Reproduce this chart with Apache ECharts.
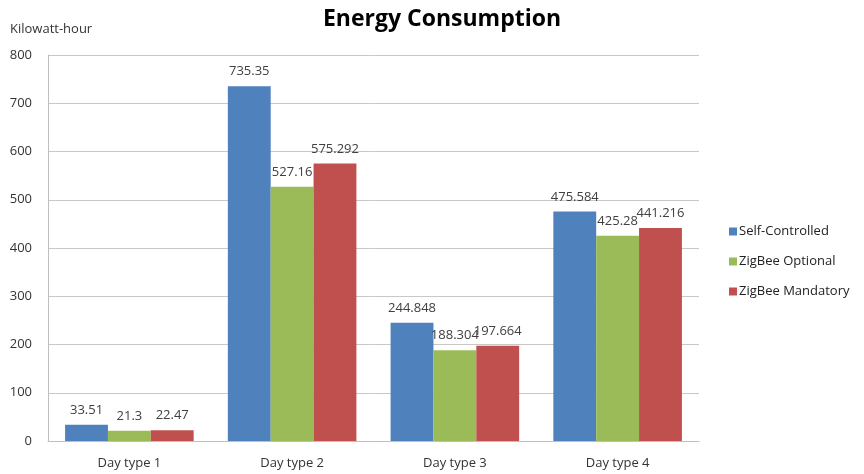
<!DOCTYPE html>
<html>
<head>
<meta charset="utf-8">
<script src="https://cdn.jsdelivr.net/npm/echarts@6/dist/echarts.min.js"></script>
<style>
  html, body { margin: 0; padding: 0; background: #fff; }
  #chart { width: 864px; height: 474px; }
</style>
</head>
<body>
<div id="chart"></div>
<script>
const categories = ['Day type 1', 'Day type 2', 'Day type 3', 'Day type 4'];
const selfControlled = [33.51, 735.35, 244.848, 475.584];
const zigbeeOptional = [21.3, 527.16, 188.304, 425.28];
const zigbeeMandatory = [22.47, 575.292, 197.664, 441.216];
const yTicks = { min: 0, max: 800, interval: 100 };

const font = "'Open Sans', 'Liberation Sans', sans-serif";

const chart = echarts.init(document.getElementById('chart'));

function barSeries(name, data, color) {
  return {
    name: name,
    type: 'bar',
    data: data,
    barGap: '0%',
    barCategoryGap: '21%',
    itemStyle: { color: color },
    label: {
      show: true,
      position: 'top',
      distance: 8,
      color: '#404040',
      fontFamily: font,
      fontSize: 13,
    },
  };
}

const option = {
  animation: false,
  title: {
    text: 'Energy Consumption',
    left: 437,
    textAlign: 'center',
    top: 3,
    textStyle: {
      fontFamily: font,
      fontWeight: 'bold',
      fontSize: 23,
      color: '#000',
    },
  },
  legend: {
    orient: 'vertical',
    left: 724,
    top: 220,
    itemWidth: 8,
    itemHeight: 8,
    itemGap: 17,
    icon: 'rect',
    textStyle: { fontFamily: font, fontSize: 13, color: '#222', padding: [0, 0, 0, -3] },
    data: ['Self-Controlled', 'ZigBee Optional', 'ZigBee Mandatory'],
  },
  grid: {
    left: 48,
    right: 165,
    top: 55,
    bottom: 33,
  },
  xAxis: {
    type: 'category',
    data: categories,
    axisLine: { lineStyle: { color: '#bfbfbf', width: 1 } },
    axisTick: { show: false },
    axisLabel: { color: '#333', fontFamily: font, fontSize: 13, margin: 16 },
  },
  yAxis: {
    type: 'value',
    min: yTicks.min,
    max: yTicks.max,
    interval: yTicks.interval,
    name: 'Kilowatt-hour',
    nameLocation: 'end',
    nameGap: 19,
    nameTextStyle: { color: '#333', fontFamily: font, fontSize: 13, align: 'left', padding: [0, 0, 0, -38] },
    axisLine: { show: true, lineStyle: { color: '#bfbfbf', width: 1 } },
    axisTick: { show: false },
    axisLabel: { color: '#333', fontFamily: font, fontSize: 13, margin: 16 },
    splitLine: { lineStyle: { color: '#c8c8c8', width: 1 } },
  },
  series: [
    barSeries('Self-Controlled', selfControlled, '#4f81bd'),
    barSeries('ZigBee Optional', zigbeeOptional, '#9bbb59'),
    barSeries('ZigBee Mandatory', zigbeeMandatory, '#c0504d'),
  ],
};

chart.setOption(option);
</script>
</body>
</html>
